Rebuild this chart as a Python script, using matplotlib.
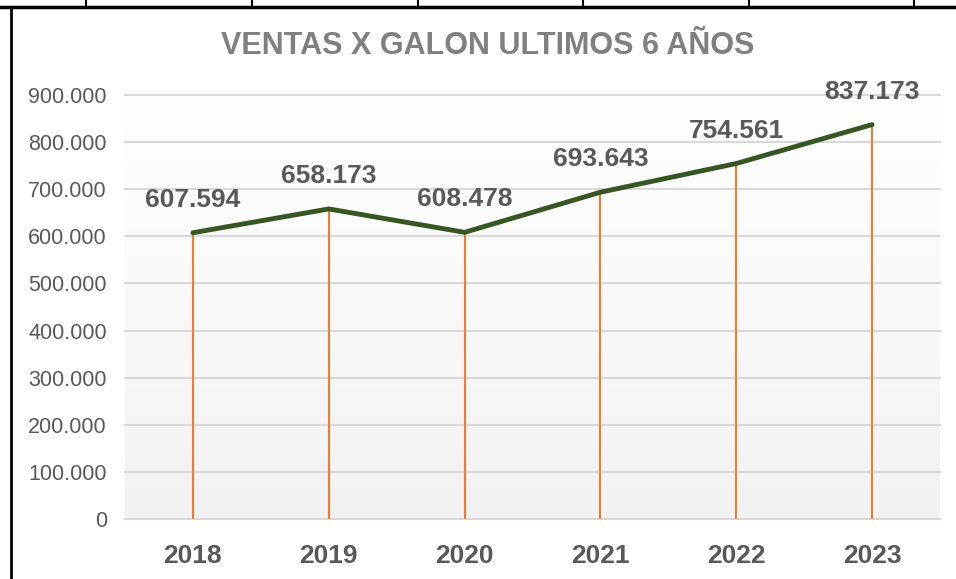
import matplotlib.pyplot as plt
import numpy as np
from matplotlib.lines import Line2D

years = ['2018', '2019', '2020', '2021', '2022', '2023']
ventas = [607594, 658173, 608478, 693643, 754561, 837173]
labels = ['607.594', '658.173', '608.478', '693.643', '754.561', '837.173']
yticks = [0, 100000, 200000, 300000, 400000, 500000, 600000, 700000, 800000, 900000]
ytick_labels = ['0', '100.000', '200.000', '300.000', '400.000', '500.000',
                '600.000', '700.000', '800.000', '900.000']

plt.rcParams['font.family'] = ['Liberation Sans', 'DejaVu Sans']

W, H = 956, 579
fig = plt.figure(figsize=(W / 100, H / 100), dpi=100)
ax = fig.add_axes([125 / W, (H - 519) / H, 815 / W, (519 - 95) / H])

# plot area gradient, white at top to light grey at bottom
grad = np.linspace(0, 1, 256).reshape(-1, 1)
top = np.array([1.0, 1.0, 1.0])
bot = np.array([0.949, 0.949, 0.949])
img = top + (bot - top) * grad[:, :, None]
ax.imshow(img, extent=[0, 1, 0, 1], transform=ax.transAxes, aspect='auto', zorder=0)

x = np.arange(len(years))
ax.set_xlim(-0.5, len(years) - 0.5)
ax.set_ylim(0, 900000)

for yv in yticks:
    ax.axhline(yv, color='#d9d9d9', lw=1.5, zorder=1, clip_on=False)

ax.vlines(x, 0, ventas, color='#ed7d31', lw=1.5, zorder=2)
ax.plot(x, ventas, color='#375623', lw=3.5, zorder=3, solid_capstyle='round')

for xi, v, lab in zip(x, ventas, labels):
    ax.annotate(lab, (xi, v), xytext=(0, 33), textcoords='offset pixels',
                ha='center', va='center', fontsize=19, fontweight='bold',
                color='#595959', clip_on=False, zorder=4)

ax.set_xticks(x)
ax.set_xticklabels(years, fontsize=19, fontweight='bold', color='#595959')
ax.set_yticks(yticks)
ax.set_yticklabels(ytick_labels, fontsize=15.5, color='#595959')
ax.tick_params(axis='both', length=0)
ax.tick_params(axis='x', pad=18)
ax.tick_params(axis='y', pad=13)
for s in ax.spines.values():
    s.set_visible(False)

fig.text(488 / W, 1 - 46 / H, 'VENTAS X GALON ULTIMOS 6 AÑOS', ha='center', va='center',
         fontsize=22, fontweight='bold', color='#808080')

# surrounding table borders
fig.add_artist(Line2D([0, 1], [1 - 6.5 / H, 1 - 6.5 / H], color='black', lw=2.5,
                      transform=fig.transFigure))
fig.add_artist(Line2D([11 / W, 11 / W], [0, 1 - 6.5 / H], color='black', lw=2,
                      transform=fig.transFigure))
for px in [86, 252, 418, 583, 749, 914]:
    fig.add_artist(Line2D([px / W, px / W], [1 - 6.5 / H, 1], color='black', lw=1.5,
                          transform=fig.transFigure))

fig.savefig('out.png', dpi=100)
